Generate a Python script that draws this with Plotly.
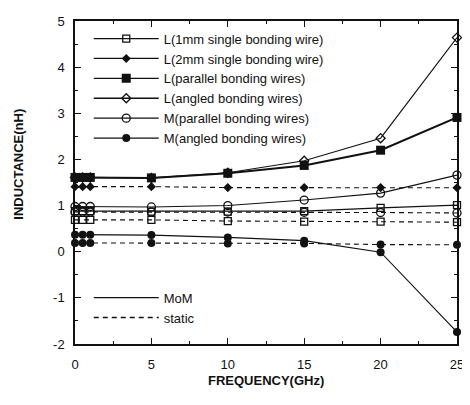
import plotly.graph_objects as go

freq = [0, 0.5, 1, 5, 10, 15, 20, 25]

# MoM (solid) series
L1mm_mom = [0.88, 0.88, 0.88, 0.87, 0.87, 0.88, 0.95, 1.01]
Lpar_mom = [1.61, 1.61, 1.61, 1.60, 1.70, 1.87, 2.20, 2.91]
Lang_mom = [1.61, 1.61, 1.61, 1.60, 1.71, 1.97, 2.46, 4.64]
Mpar_mom = [0.98, 0.98, 0.98, 0.97, 1.00, 1.12, 1.27, 1.66]
Mang_mom = [0.37, 0.37, 0.37, 0.36, 0.31, 0.24, -0.01, -1.74]

# static (dashed) series
L1mm_static = [0.69, 0.69, 0.69, 0.69, 0.665, 0.65, 0.65, 0.64]
L2mm_static = [1.41, 1.41, 1.41, 1.41, 1.39, 1.39, 1.39, 1.385]
Mpar_static = [0.86, 0.86, 0.86, 0.86, 0.86, 0.855, 0.85, 0.84]
Mang_static = [0.19, 0.19, 0.19, 0.19, 0.18, 0.18, 0.155, 0.15]

legend_names = [
    "L(1mm single bonding wire)",
    "L(2mm single bonding wire)",
    "L(parallel bonding wires)",
    "L(angled bonding wires)",
    "M(parallel bonding wires)",
    "M(angled bonding wires)",
]

K = "#111111"
sym = {
    "L1mm": dict(symbol="square-open", size=7, color=K, line=dict(width=1.3, color=K)),
    "L2mm": dict(symbol="diamond", size=7, color=K),
    "Lpar": dict(symbol="square", size=9, color=K),
    "Lang": dict(symbol="diamond-open", size=7, color=K, line=dict(width=1.3, color=K)),
    "Mpar": dict(symbol="circle-open", size=8, color=K, line=dict(width=1.3, color=K)),
    "Mang": dict(symbol="circle", size=8, color=K),
}

fig = go.Figure()

def add(y, key, dash, width=1.1):
    fig.add_trace(go.Scatter(
        x=freq, y=y, mode="lines+markers", showlegend=False,
        line=dict(color=K, width=width, dash=dash),
        marker=sym[key],
        cliponaxis=False,
    ))

add(L1mm_static, "L1mm", "5px,4px")
add(L2mm_static, "L2mm", "5px,4px")
add(Mpar_static, "Mpar", "5px,4px")
add(Mang_static, "Mang", "5px,4px")
add(L1mm_mom, "L1mm", "solid")
add(Mpar_mom, "Mpar", "solid")
add(Mang_mom, "Mang", "solid")
add(Lang_mom, "Lang", "solid")
add(Lpar_mom, "Lpar", "solid", width=2)

# legend proxies (no drawn marks)
for name, key in zip(legend_names, ["L1mm", "L2mm", "Lpar", "Lang", "Mpar", "Mang"]):
    fig.add_trace(go.Scatter(
        x=[None], y=[None], mode="lines+markers", name=name, legend="legend",
        line=dict(color=K, width=1.3), marker=sym[key],
    ))
for name, dash in [("MoM", "solid"), ("static", "5px,4px")]:
    fig.add_trace(go.Scatter(
        x=[None], y=[None], mode="lines", name=name, legend="legend2",
        line=dict(color=K, width=1.3, dash=dash),
    ))

font = dict(family="Liberation Sans, Arial, sans-serif", size=13, color=K)

fig.update_layout(
    width=462, height=397,
    margin=dict(l=67, r=11, t=6, b=61),
    paper_bgcolor="white", plot_bgcolor="white",
    font=font,
    xaxis=dict(
        range=[0, 25], tickvals=[0, 5, 10, 15, 20, 25],
        ticks="inside", ticklen=6, tickwidth=1.2, tickcolor=K,
        minor=dict(ticks="inside", ticklen=3, tickcolor=K, dtick=2.5, tick0=0),
        showline=True, linecolor=K, linewidth=1.5, mirror="ticks",
        showgrid=False, zeroline=False, ticklabelstandoff=8,
        tickfont=dict(size=13),
    ),
    yaxis=dict(
        range=[-2, 5], tickvals=[-2, -1, 0, 1, 2, 3, 4, 5],
        ticktext=["-2", "-1", "0", "1", "2", "3", "4", "5"],
        ticks="inside", ticklen=6, tickwidth=1.2, tickcolor=K,
        minor=dict(ticks="inside", ticklen=3, tickcolor=K, dtick=0.5, tick0=0),
        showline=True, linecolor=K, linewidth=1.5, mirror="ticks",
        showgrid=False, zeroline=False, ticklabelstandoff=6,
        tickfont=dict(size=13),
    ),
    legend=dict(
        x=0.036, y=0.992, xanchor="left", yanchor="top",
        bgcolor="rgba(0,0,0,0)", font=dict(size=13), itemwidth=65,
        tracegroupgap=0,
    ),
    legend2=dict(
        x=0.036, y=0.19, xanchor="left", yanchor="top",
        bgcolor="rgba(0,0,0,0)", font=dict(size=13), itemwidth=65,
    ),
    annotations=[
        dict(text="<b>FREQUENCY(GHz)</b>", xref="paper", yref="paper",
             x=0.5, y=0, xanchor="center", yanchor="middle", yshift=-36,
             showarrow=False, font=dict(size=13)),
        dict(text="<b>INDUCTANCE(nH)</b>", xref="paper", yref="paper",
             x=0, y=0.555, xanchor="center", yanchor="middle", xshift=-56,
             textangle=-90, showarrow=False, font=dict(size=13)),
    ],
)

fig.write_html("out.html")
